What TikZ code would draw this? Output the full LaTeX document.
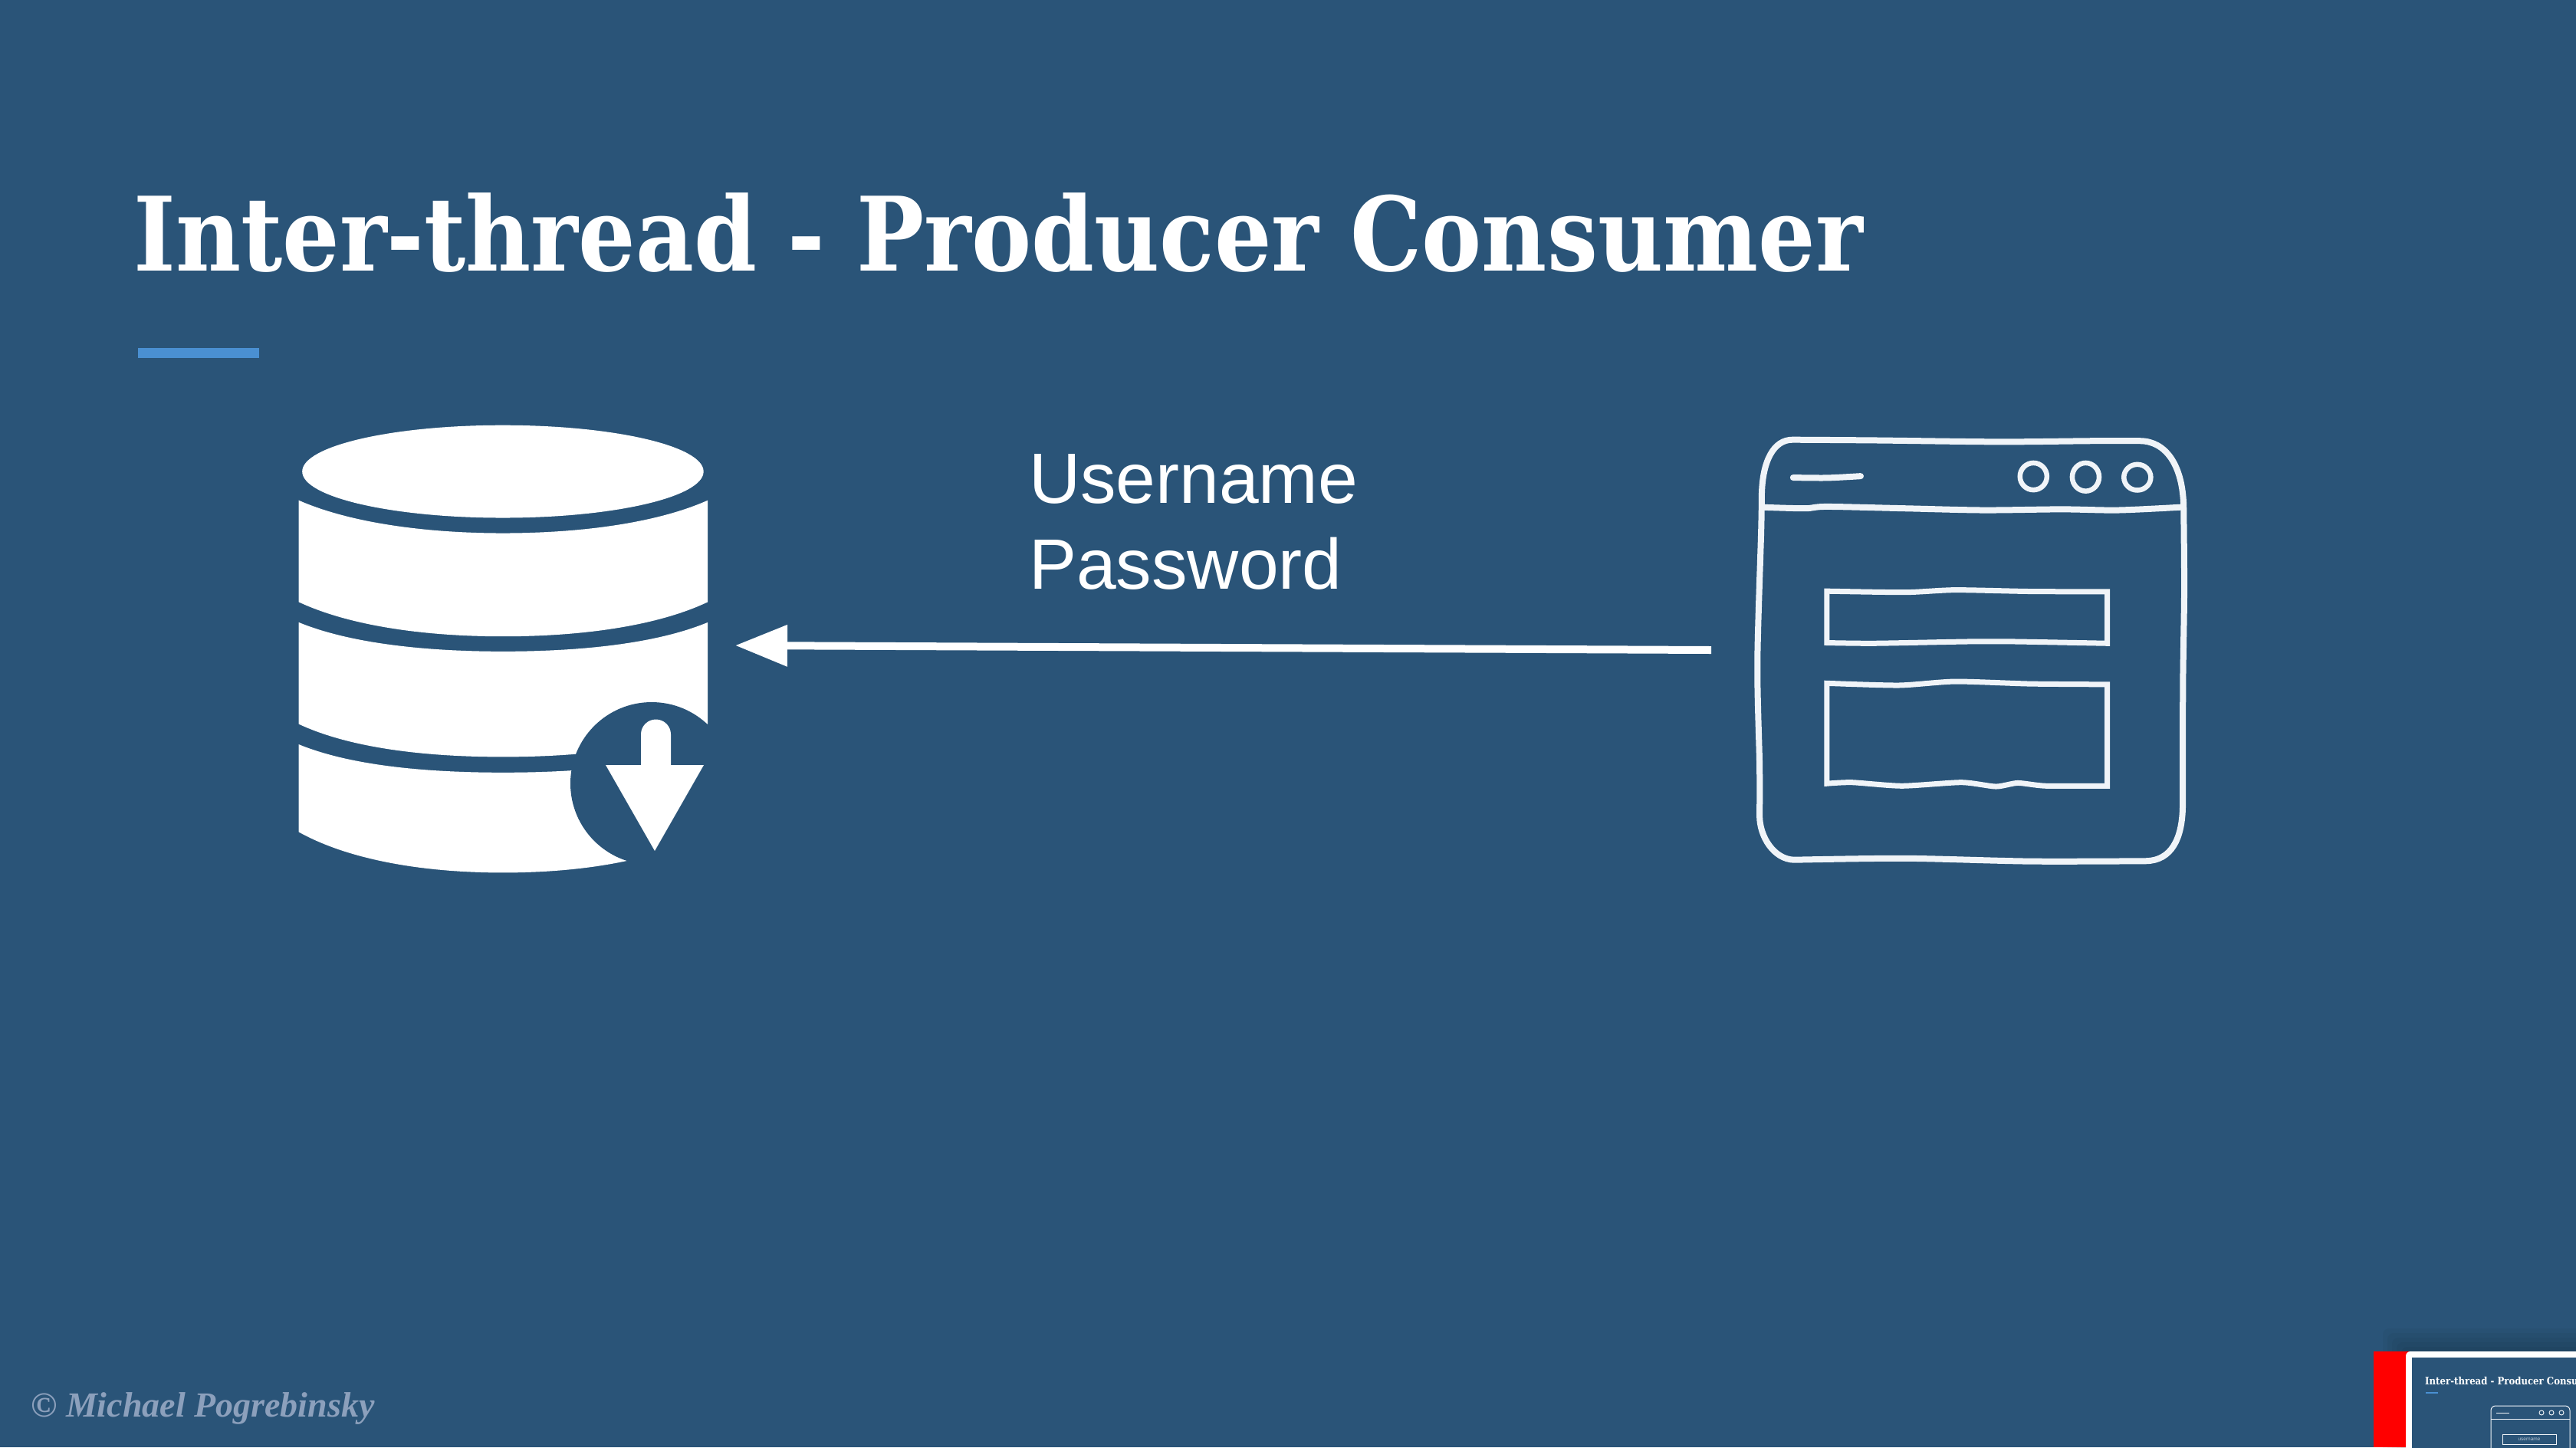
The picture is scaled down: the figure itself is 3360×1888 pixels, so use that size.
\documentclass[tikz,border=0pt]{standalone}
\usepackage{fontspec}
\setmainfont{Liberation Sans}
\newfontfamily\titlefont{DejaVu Serif}
\newfontfamily\signfont{Liberation Serif}
\usetikzlibrary{arrows.meta}
\definecolor{bgblue}{HTML}{2A5478}
\definecolor{accent}{HTML}{4A90D2}
\definecolor{signgrey}{HTML}{8CA0BC}
\definecolor{inkwhite}{HTML}{F0F4F8}
\tikzset{
  sketch/.style={draw=inkwhite,line width=8pt,line join=round,line cap=round},
  fieldbox/.style={draw=inkwhite,line width=7pt,line join=miter},
  dot/.style={draw=inkwhite,line width=6.5pt},
  dbpart/.style={fill=white,draw=none},
  flow/.style={draw=white,line width=10pt,-{Triangle[length=68pt,width=52pt]}},
  maintitle/.style={anchor=base west,inner sep=0,text=white,font=\titlefont\bfseries\fontsize{134}{140}\selectfont,xscale=0.875,transform shape},
  thumbtitlestyle/.style={anchor=base west,inner sep=0,text=white,font=\titlefont\bfseries\fontsize{13.4}{14}\selectfont,xscale=0.875,transform shape},
  label/.style={anchor=base west,inner sep=0,align=left,text=white,font=\fontsize{93}{112}\selectfont},
  sign/.style={anchor=base west,inner sep=0,text=signgrey,font=\signfont\bfseries\itshape\fontsize{46}{50}\selectfont},
}
\begin{document}
\begin{tikzpicture}[x=1pt,y=-1pt]
\useasboundingbox (0,0) rectangle (3360,1888);
\fill[bgblue] (0,0) rectangle (3360,1888);
% title
\node[maintitle] (title) at (174,353) {Inter-thread - Producer Consumer};
\fill[accent] (180,454) rectangle (338,467);
% database icon
\begin{scope}[shift={(340,520)},x=0.4592pt,y=-0.4082pt]
  \fill[dbpart] (688,233) ellipse [x radius=570,y radius=148];
  \fill[dbpart] (108,325) .. controls (260,400) and (480,430) .. (688,430) .. controls (900,430) and (1120,400) .. (1270,325)
     -- (1270,650) .. controls (1120,730) and (900,760) .. (688,760) .. controls (480,760) and (260,730) .. (108,650) -- cycle;
  \fill[dbpart] (108,715) .. controls (260,785) and (480,808) .. (688,808) .. controls (900,808) and (1120,785) .. (1270,715)
     -- (1270,1040) .. controls (1120,1120) and (900,1145) .. (688,1145) .. controls (480,1145) and (260,1120) .. (108,1040) -- cycle;
  \fill[dbpart] (108,1105) .. controls (260,1175) and (480,1195) .. (688,1195) .. controls (900,1195) and (1120,1175) .. (1270,1105)
     -- (1270,1385) .. controls (1120,1480) and (900,1515) .. (688,1515) .. controls (480,1515) and (260,1480) .. (108,1385) -- cycle;
\end{scope}
\fill[bgblue] (850,1022) circle [radius=106];
\fill[white] (836,998) -- (836,958) arc[start angle=180,end angle=360,radius=19.5] -- (875,998) -- (918,998) -- (854,1110) -- (790,998) -- cycle;
% window icon
\begin{scope}[shift={(2240,540)},x=0.4082pt,y=-0.3827pt]
  \draw[sketch] plot[smooth,tension=0.5] coordinates {(240,88) (500,90) (900,95) (1200,92) (1350,92)}
     .. controls (1430,92) and (1488,170) .. (1490,320)
     -- plot[smooth,tension=0.5] coordinates {(1490,320) (1492,600) (1488,900) (1487,1200) (1487,1340)}
     .. controls (1485,1450) and (1450,1522) .. (1370,1524)
     -- plot[smooth,tension=0.5] coordinates {(1370,1524) (1000,1525) (600,1515) (245,1520)}
     .. controls (180,1518) and (135,1440) .. (135,1370)
     -- plot[smooth,tension=0.5] coordinates {(135,1370) (135,1200) (128,850) (140,400) (142,270)}
     .. controls (145,160) and (180,88) .. (240,88) -- cycle;
  \draw[sketch] plot[smooth,tension=0.5] coordinates {(142,318) (280,322) (350,316) (600,322) (850,328) (1100,325) (1280,328) (1480,318)};
  \draw[sketch] plot[smooth,tension=0.5] coordinates {(242,217) (350,218) (458,212)};
  \draw[dot] (1010,213) ellipse [x radius=43,y radius=46];
  \draw[dot] (1177,215) ellipse [x radius=43,y radius=48];
  \draw[dot] (1342,216) ellipse [x radius=43,y radius=44];
  \draw[fieldbox] plot[smooth,tension=0.4] coordinates {(350,604) (600,608) (760,600) (1000,605) (1246,606)}
     -- (1246,782) -- plot[smooth,tension=0.4] coordinates {(1246,782) (950,776) (800,776) (500,782) (350,780)} -- cycle;
  \draw[fieldbox] plot[smooth,tension=0.4] coordinates {(350,918) (580,925) (760,912) (1000,920) (1246,922)}
     -- (1246,1268) -- plot[smooth,tension=0.4] coordinates {(1246,1268) (1050,1268) (960,1258) (890,1270) (780,1256) (590,1268) (430,1256) (350,1260)} -- cycle;
\end{scope}
% connector
\coordinate (windowport) at (2232,848);
\coordinate (dbport) at (959,842);
\draw[flow] (windowport) -- (dbport);
\node[label] (creds) at (1342,768) {Username\\Password};
% signature
\node[sign] (sign) at (40,1848) {© Michael Pogrebinsky};
% thumbnail
\begin{scope}
  \clip (3000,1700) rectangle (3360,1888);
  \foreach \d in {6,12,18,24,30}
    \fill[black,opacity=0.035,rounded corners=8pt] (3138-\d,1763-\d) rectangle (3420,1950);
  \fill[red] (3096,1763) rectangle (3145,1888);
  \fill[white,rounded corners=6pt] (3138,1763) rectangle (3420,1950);
  \fill[bgblue] (3146,1771) rectangle (3420,1950);
  \clip (3146,1771) rectangle (3360,1888);
  \node[thumbtitlestyle] (thumbtitle) at (3163,1806) {Inter-thread - Producer Consumer};
  \fill[accent] (3164,1816) rectangle (3180,1818);
  \draw[draw=inkwhite,line width=1pt,rounded corners=6pt] (3249,1950) -- (3249,1834) -- (3352,1834) -- (3352,1950);
  \draw[draw=inkwhite,line width=1pt] (3249,1851) -- (3352,1851);
  \draw[draw=inkwhite,line width=1pt] (3256,1843) -- (3273,1843);
  \draw[draw=inkwhite,line width=.9pt] (3315,1843) circle [radius=3] (3328,1843) circle [radius=3] (3341,1843) circle [radius=3];
  \draw[draw=inkwhite,line width=1pt] (3264,1871) rectangle (3334,1884);
  \node[inner sep=0,text=inkwhite!70!bgblue,font=\fontsize{6.5}{7}\selectfont] (thumbuser) at (3299,1877.5) {username};
\end{scope}
\end{tikzpicture}
\end{document}
